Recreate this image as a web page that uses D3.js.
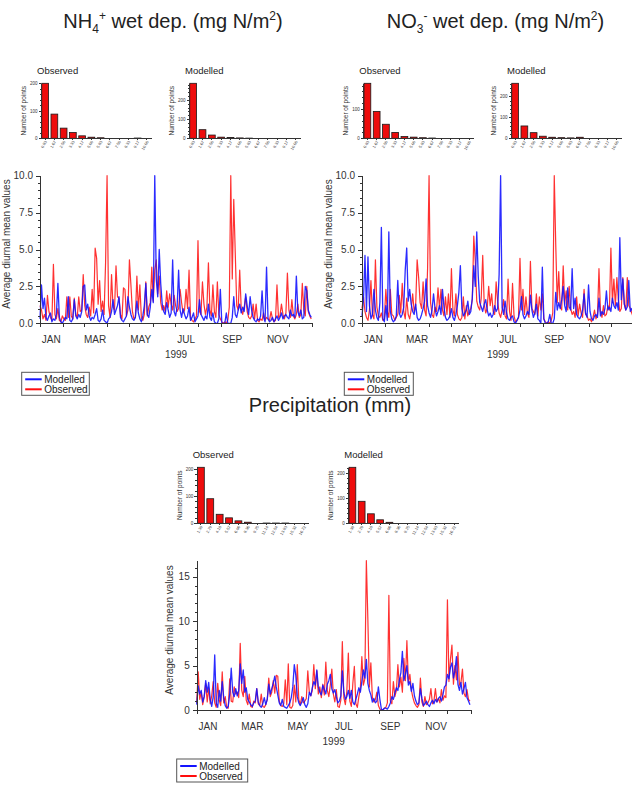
<!DOCTYPE html>
<html>
<head>
<meta charset="utf-8">
<script src="https://cdn.jsdelivr.net/npm/d3@7"></script>
<style>
    body { margin: 0; background: #fff; }
    svg { font-family: "Liberation Sans", Arial, sans-serif; display: block; }
    .axis path, .axis line { stroke: #333; shape-rendering: crispEdges; }
    .axis text { fill: #333; }
</style>
</head>
<body>
<svg id="chart" width="632" height="811"></svg>
<script>
(function () {
    'use strict';

    // one value every 2 days, starting 1 Jan 1999
    var dayStep = 2;
    var monthLabels = ['JAN', 'MAR', 'MAY', 'JUL', 'SEP', 'NOV'];
    var yearLabel = '1999';

    var binsN = ['0.83', '1.67', '2.50', '3.33', '4.17', '5.00', '5.83', '6.67', '7.50', '8.33', '9.17', '10.00'];
    var binsP = ['1.39', '2.79', '4.18', '5.57', '6.96', '8.36', '9.75', '11.14', '12.54', '13.93', '15.32', '16.72'];

    var histObsNH4 = [200, 88, 37, 21, 9, 4, 2, 0, 0, 0, 1, 0];
    var histModNH4 = [287, 45, 17, 6, 4, 2, 1, 0, 0, 0, 0, 0];
    var histObsNO3 = [188, 92, 48, 20, 6, 4, 2, 1, 0, 0, 0, 0];
    var histModNO3 = [263, 59, 27, 10, 5, 3, 2, 5, 0, 0, 0, 0];
    var histObsPrec = [205, 90, 33, 20, 9, 4, 0, 1, 1, 1, 0, 0];
    var histModPrec = [224, 88, 38, 14, 4, 0, 0, 0, 0, 0, 0, 0];

    var obsNH4 = [
        1.2, 0.9, 0.3, 0.6, 0.2, 1.9, 0.8, 0.4, 0.2, 4.0,
        0.6, 0.3, 1.0, 0.2, 0.1, 0.5, 0.3, 0.2, 1.8, 0.4,
        1.8, 0.5, 0.3, 1.7, 0.6, 0.4, 1.8, 0.8, 0.9, 3.3,
        1.2, 0.6, 0.4, 1.1, 0.5, 2.3, 0.7, 5.1, 4.4, 1.3,
        2.9, 0.8, 1.5, 0.6, 4.1, 10.0, 1.2, 0.4, 3.3, 1.1,
        0.9, 3.9, 1.8, 1.7, 0.6, 0.3, 2.4, 2.3, 0.5, 0.9,
        4.3, 2.6, 0.8, 0.3, 0.4, 3.2, 0.9, 2.6, 0.4, 0.2,
        0.6, 2.8, 0.5, 1.1, 1.4, 3.8, 1.5, 3.6, 4.3, 2.0,
        3.2, 1.4, 0.9, 1.2, 0.8, 2.2, 1.1, 2.0, 1.3, 0.9,
        1.9, 1.2, 0.8, 1.0, 2.3, 1.4, 0.7, 0.9, 2.3, 1.0,
        3.6, 0.4, 0.2, 0.1, 0.3, 0.5, 5.6, 0.8, 0.6, 2.8,
        1.3, 0.6, 1.1, 4.1, 0.9, 0.5, 2.6, 0.8, 0.4, 2.8,
        0.6, 0.3, 0.1, 0.0, 0.1, 0.0, 0.2, 1.1, 10.0, 3.0,
        8.4, 4.8, 1.2, 0.9, 3.6, 1.0, 0.6, 1.1, 1.8, 0.8,
        0.4, 0.3, 0.5, 1.3, 0.3, 1.3, 0.2, 0.1, 0.3, 0.2,
        0.7, 0.2, 0.4, 0.3, 0.2, 0.8, 0.3, 0.1, 0.2, 2.6,
        0.4, 0.5, 1.3, 0.6, 0.3, 0.7, 3.4, 0.9, 0.4, 1.6,
        0.5, 0.3, 0.6, 1.3, 0.4, 0.6, 2.7, 0.9, 0.5, 2.5,
        0.8, 0.5, 0.3
    ];

    var modNH4 = [
        0.3, 2.6, 1.0, 1.7, 0.4, 0.2, 0.5, 0.7, 0.1, 0.3,
        0.2, 0.6, 2.7, 0.4, 0.1, 0.0, 0.2, 0.4, 0.3, 1.8,
        0.2, 0.1, 0.3, 1.6, 0.5, 0.3, 0.6, 0.4, 0.8, 2.5,
        2.6, 0.9, 1.3, 0.5, 0.2, 0.4, 0.3, 0.6, 1.0, 0.2,
        0.1, 0.3, 0.9, 0.2, 0.1, 0.0, 0.3, 0.4, 0.8, 1.6,
        0.6, 0.9, 1.2, 1.8, 0.4, 0.2, 0.1, 0.3, 0.5, 1.8,
        1.1, 0.6, 0.3, 0.2, 0.4, 1.5, 0.7, 0.3, 0.1, 0.5,
        1.2, 2.7, 0.6, 0.4, 1.1, 2.3, 1.4, 10.0, 3.0, 1.8,
        5.0, 2.7, 1.3, 0.8, 0.6, 1.4, 0.9, 0.4, 0.7, 4.3,
        0.8, 0.5, 1.1, 3.6, 0.9, 0.4, 1.0, 0.6, 0.3, 0.5,
        1.1, 0.2, 0.4, 0.7, 0.1, 0.3, 0.5, 1.6, 0.6, 0.4,
        0.2, 0.5, 0.3, 1.3, 0.4, 0.2, 0.7, 0.1, 0.0, 0.0,
        0.3, 2.3, 0.0, 0.0, 0.0, 0.7, 0.0, 0.0, 0.0, 0.4,
        1.8, 0.6, 0.4, 0.9, 1.3, 0.7, 1.1, 0.8, 2.0, 1.2,
        0.6, 1.8, 0.9, 0.4, 0.2, 0.1, 0.3, 0.2, 0.5, 2.2,
        0.4, 0.1, 3.8, 0.3, 0.1, 0.2, 0.4, 0.1, 0.3, 0.5,
        0.2, 0.4, 0.7, 0.3, 0.5, 0.6, 0.4, 0.3, 0.9, 0.5,
        0.6, 0.4, 3.2, 0.8, 0.5, 0.9, 0.3, 0.4, 2.5, 2.2,
        0.9, 0.6, 0.4
    ];

    var obsNO3 = [
        1.0, 1.8, 0.8, 0.4, 0.2, 0.9, 2.9, 0.6, 0.3, 4.3,
        1.1, 0.5, 0.4, 0.7, 0.2, 0.3, 2.3, 0.8, 0.4, 2.3,
        0.6, 0.5, 0.2, 0.4, 0.6, 1.9, 0.7, 2.7, 0.8, 0.3,
        1.7, 0.6, 0.3, 0.9, 2.0, 0.8, 1.2, 4.3, 3.1, 1.4,
        1.0, 2.8, 0.9, 0.5, 3.7, 10.0, 1.4, 0.6, 0.4, 1.1,
        0.8, 2.4, 1.0, 2.3, 0.9, 0.5, 1.8, 0.6, 2.0, 0.4,
        3.7, 0.9, 0.5, 2.0, 0.6, 0.3, 0.2, 0.4, 1.8, 0.3,
        1.2, 0.5, 0.8, 1.0, 1.6, 5.9, 4.2, 1.5, 1.1, 0.9,
        1.7, 4.6, 1.3, 0.7, 1.0, 2.5, 1.2, 2.0, 0.8, 0.6,
        2.8, 1.5, 0.7, 0.4, 0.9, 1.6, 0.5, 0.3, 3.0, 0.8,
        0.2, 2.7, 0.5, 0.1, 0.2, 0.4, 4.4, 0.9, 2.3, 0.6,
        1.8, 0.7, 0.4, 4.2, 1.0, 0.8, 0.6, 2.0, 0.5, 1.8,
        0.9, 2.0, 0.3, 0.1, 0.0, 0.1, 0.0, 0.2, 0.7, 10.0,
        5.3, 1.4, 3.5, 1.1, 0.9, 3.9, 1.3, 2.2, 0.9, 2.5,
        1.0, 0.6, 0.8, 0.4, 1.8, 0.5, 1.3, 0.7, 0.4, 2.3,
        0.6, 0.5, 0.2, 0.3, 0.1, 0.4, 0.9, 0.3, 0.6, 3.7,
        0.8, 0.4, 1.2, 0.5, 0.6, 1.2, 0.9, 5.1, 1.4, 3.0,
        1.2, 3.1, 1.6, 0.8, 1.0, 3.1, 1.3, 0.9, 3.1, 1.2,
        1.0, 0.7, 0.4
    ];

    var modNO3 = [
        0.5, 1.6, 4.6, 0.8, 4.5, 1.2, 0.3, 0.6, 2.3, 0.9,
        0.4, 0.2, 1.4, 6.5, 0.3, 0.1, 1.2, 0.2, 6.2, 0.8,
        0.3, 0.1, 0.2, 0.5, 2.9, 0.7, 0.4, 0.6, 1.1, 3.6,
        5.1, 1.5, 2.3, 1.3, 0.8, 0.6, 1.3, 0.4, 0.2, 0.3,
        0.6, 1.0, 1.5, 3.0, 1.2, 0.7, 0.4, 0.9, 2.0, 1.0,
        0.5, 0.8, 1.2, 0.6, 2.3, 1.1, 0.4, 0.2, 0.3, 0.5,
        1.0, 0.4, 0.2, 0.6, 1.2, 2.1, 3.9, 1.0, 0.5, 0.7,
        0.9, 1.5, 0.6, 0.8, 1.7, 3.9, 2.5, 6.2, 3.2, 1.4,
        1.1, 0.8, 1.3, 1.6, 0.9, 0.5, 0.7, 0.4, 0.6, 1.2,
        0.8, 1.0, 3.3, 10.0, 1.1, 0.6, 1.5, 0.7, 0.3, 0.2,
        0.4, 0.5, 0.1, 0.0, 0.2, 0.4, 0.9, 1.8, 0.6, 0.3,
        0.5, 0.8, 0.6, 1.9, 0.9, 0.4, 0.7, 1.3, 0.3, 0.2,
        0.0, 3.8, 0.3, 0.0, 0.0, 0.1, 0.6, 0.0, 0.0, 0.3,
        2.1, 0.9, 1.4, 1.0, 1.6, 2.5, 1.2, 0.8, 2.4, 1.1,
        0.9, 3.7, 1.0, 1.7, 0.6, 0.4, 0.3, 0.5, 0.9, 2.0,
        0.7, 0.4, 2.6, 0.8, 0.3, 0.2, 0.5, 0.6, 0.4, 1.7,
        0.5, 0.8, 0.6, 1.0, 2.2, 0.9, 1.1, 0.8, 1.7, 1.2,
        1.0, 1.4, 0.9, 5.8, 1.6, 3.0, 1.3, 0.9, 1.1, 2.9,
        0.8, 1.0, 0.7
    ];

    var obsPrec = [
        0.8, 4.3, 1.2, 2.0, 0.6, 1.5, 3.0, 0.9, 2.5, 0.7,
        1.6, 3.2, 0.8, 0.3, 3.0, 1.1, 0.5, 4.3, 0.8, 1.5,
        0.3, 0.2, 3.5, 1.0, 0.9, 2.6, 1.8, 2.0, 1.4, 7.5,
        2.2, 1.5, 3.8, 1.1, 0.6, 1.8, 0.4, 0.3, 1.0, 0.8,
        2.4, 0.7, 0.5, 1.8, 0.4, 0.3, 0.6, 1.2, 3.6, 1.5,
        2.0, 3.3, 1.9, 3.9, 3.8, 1.0, 0.5, 0.4, 0.7, 3.4,
        0.6, 5.2, 0.3, 0.2, 0.5, 2.8, 0.9, 5.1, 1.2, 0.6,
        1.5, 0.8, 1.0, 1.3, 4.4, 2.0, 1.6, 2.2, 5.1, 2.4,
        4.4, 1.8, 2.6, 1.4, 2.9, 1.7, 5.4, 2.2, 1.5, 2.8,
        4.6, 1.8, 0.9, 2.3, 0.4, 0.3, 1.1, 7.7, 1.4, 0.6,
        2.1, 6.4, 1.0, 0.4, 3.0, 4.9, 0.7, 0.3, 1.5, 2.4,
        6.0, 2.8, 3.5, 16.8, 10.2, 2.6, 5.3, 1.4, 0.9, 1.2,
        2.0, 0.5, 0.1, 0.0, 0.0, 0.2, 0.3, 0.8, 12.9, 1.0,
        0.7, 3.2, 1.5, 2.2, 5.1, 2.6, 3.7, 2.0, 5.8, 3.3,
        7.8, 3.1, 4.0, 2.2, 1.4, 0.8, 0.5, 0.3, 0.6, 3.6,
        0.9, 0.4, 1.5, 0.6, 0.8, 1.2, 2.4, 0.7, 1.0, 2.4,
        0.9, 1.3, 0.8, 2.3, 1.1, 1.6, 1.4, 12.4, 3.2, 5.7,
        7.3, 2.9, 5.0, 3.4, 6.5, 2.8, 3.1, 4.6, 1.9, 1.5,
        2.3, 1.2, 1.0
    ];

    var modPrec = [
        0.6, 2.7, 1.8, 2.2, 0.9, 1.5, 3.3, 2.0, 3.1, 1.2,
        0.4, 1.5, 6.2, 0.8, 0.3, 2.2, 1.0, 3.2, 1.4, 0.5,
        0.2, 0.4, 1.8, 4.7, 2.0, 1.5, 2.4, 1.6, 2.2, 5.2,
        3.0, 4.5, 2.0, 2.5, 1.2, 0.9, 0.6, 0.4, 0.8, 1.0,
        2.4, 0.9, 0.5, 0.3, 0.7, 1.4, 0.6, 1.2, 2.9, 1.8,
        2.4, 3.0, 3.8, 2.6, 1.7, 0.8, 0.5, 1.2, 0.4, 0.3,
        0.2, 0.5, 0.8, 1.4, 2.6, 5.1, 3.9, 1.5, 0.8, 0.5,
        0.9, 1.4, 0.6, 0.3, 0.7, 2.0, 1.6, 2.5, 3.2, 2.8,
        4.5, 2.6, 2.0, 1.7, 2.8, 2.3, 1.8, 2.9, 3.3, 4.0,
        2.4, 1.9, 2.3, 1.5, 0.8, 1.0, 1.6, 4.4, 2.0, 1.2,
        1.5, 2.2, 1.3, 2.2, 0.9, 0.6, 1.2, 1.8, 2.5, 2.0,
        3.2, 4.5, 3.6, 5.7, 3.0, 2.2, 1.7, 0.9, 1.3, 0.8,
        1.0, 2.6, 1.2, 0.1, 0.0, 0.2, 0.2, 0.1, 0.4, 0.8,
        1.5, 1.2, 1.9, 2.5, 2.2, 3.4, 4.2, 6.6, 3.3, 4.0,
        5.0, 2.8, 3.2, 2.1, 3.0, 1.6, 1.0, 0.6, 0.8, 2.4,
        1.3, 0.5, 0.7, 1.0, 0.6, 0.4, 0.8, 1.1, 0.7, 1.2,
        0.9, 1.3, 1.5, 1.0, 1.7, 2.6, 2.8, 4.0, 3.5, 4.8,
        5.3, 3.6, 4.4, 6.0, 2.9, 2.2, 3.1, 1.8, 2.4, 3.1,
        1.4, 1.0, 0.6
    ];

    var colors = {
        observed: '#ff0d0d',
        modelled: '#1414ff',
        bar: '#ee0c0c',
        text: '#222'
    };

    var svg = d3.select('#chart');
    var startDay = new Date(1999, 0, 1);
    var endDay = new Date(2000, 0, 1);

    function dayOf(i) {
        return d3.timeDay.offset(startDay, i * dayStep);
    }

    function title(cx, cy, parts) {
        var t = svg.append('text')
            .attr('x', cx).attr('y', cy)
            .attr('text-anchor', 'middle')
            .attr('font-size', 20)
            .attr('fill', colors.text);
        parts.forEach(function (p) {
            var s = t.append('tspan').text(p.text);
            if (p.dy) { s.attr('dy', p.dy); }
            if (p.size) { s.attr('font-size', p.size); }
        });
    }

    function drawHist(o) {
        var g = svg.append('g');
        var x = d3.scaleBand().domain(o.bins)
            .range([o.left, o.left + o.width])
            .paddingInner(0.27).paddingOuter(0.08);
        var y = d3.scaleLinear().domain([0, d3.max(o.values)])
            .range([o.top + o.height, o.top]);

        g.append('text')
            .attr('x', o.left - 4).attr('y', o.top - 9.5)
            .attr('font-size', 9.5).attr('fill', colors.text)
            .text(o.title);

        g.selectAll('rect').data(o.values).enter().append('rect')
            .attr('x', function (d, i) { return x(o.bins[i]); })
            .attr('y', function (d) { return y(d); })
            .attr('width', x.bandwidth())
            .attr('height', function (d) { return y(0) - y(d); })
            .attr('fill', colors.bar)
            .attr('stroke', '#1a1a1a')
            .attr('stroke-width', 0.8);

        var minor = d3.range(0, y.domain()[1] + 0.1, 20);
        g.append('g').attr('class', 'axis')
            .attr('transform', 'translate(' + o.left + ',0)')
            .call(d3.axisLeft(y).tickValues(minor).tickSize(1.5).tickSizeOuter(0).tickFormat(''));
        g.append('g').attr('class', 'axis')
            .attr('transform', 'translate(' + o.left + ',0)')
            .call(d3.axisLeft(y).tickValues([0, 100, 200].filter(function (v) { return v <= y.domain()[1]; }))
                .tickSize(2.5).tickSizeOuter(0).tickPadding(1).tickFormat(d3.format('d')))
            .selectAll('text').attr('font-size', 4.5);

        var xa = g.append('g').attr('class', 'axis')
            .attr('transform', 'translate(0,' + (o.top + o.height) + ')')
            .call(d3.axisBottom(x).tickSize(1.5).tickSizeOuter(0));
        xa.selectAll('text')
            .attr('font-size', 4)
            .attr('fill', '#555')
            .attr('x', -2).attr('y', 2).attr('dy', '0.35em')
            .attr('transform', 'rotate(-60)')
            .style('text-anchor', 'end');

        g.append('text')
            .attr('transform', 'translate(' + (o.left - 15) + ',' + (o.top + o.height / 2) + ') rotate(-90)')
            .attr('text-anchor', 'middle')
            .attr('font-size', 6.5).attr('fill', '#333')
            .text('Number of points');
    }

    function drawSeries(o) {
        var g = svg.append('g');
        var x = d3.scaleTime().domain([startDay, endDay]).range([o.left, o.left + o.width]);
        var maxV = d3.max(o.observed.concat(o.modelled));
        var y = d3.scaleLinear().domain([0, maxV]).range([o.top + o.height, o.top]);
        var base = o.top + o.height;

        var line = d3.line()
            .x(function (d, i) { return x(dayOf(i)); })
            .y(function (d) { return y(d); });

        g.append('path').datum(o.observed)
            .attr('d', line).attr('fill', 'none')
            .attr('stroke', colors.observed).attr('stroke-width', 1.2)
            .attr('stroke-opacity', 0.85).attr('stroke-linejoin', 'round');
        g.append('path').datum(o.modelled)
            .attr('d', line).attr('fill', 'none')
            .attr('stroke', colors.modelled).attr('stroke-width', 1.3)
            .attr('stroke-opacity', 0.9).attr('stroke-linejoin', 'round');

        // y axis: minor then major ticks
        g.append('g').attr('class', 'axis')
            .attr('transform', 'translate(' + o.left + ',0)')
            .call(d3.axisLeft(y).tickValues(d3.range(0, maxV + 0.01, o.minor)).tickSize(2).tickSizeOuter(0).tickFormat(''));
        g.append('g').attr('class', 'axis')
            .attr('transform', 'translate(' + o.left + ',0)')
            .call(d3.axisLeft(y).tickValues(o.yTicks).tickSize(4).tickSizeOuter(0).tickPadding(3).tickFormat(o.fmt))
            .selectAll('text').attr('font-size', 10);

        // x axis, one tick per month
        g.append('g').attr('class', 'axis')
            .attr('transform', 'translate(0,' + base + ')')
            .call(d3.axisBottom(x).ticks(d3.timeMonth.every(1)).tickSize(4).tickSizeOuter(0).tickFormat(''));

        g.selectAll('text.month').data(monthLabels).enter().append('text')
            .attr('class', 'month')
            .attr('x', function (d, i) { return x(new Date(1999, i * 2, 16)); })
            .attr('y', base + 19.5)
            .attr('text-anchor', 'middle')
            .attr('font-size', 10).attr('fill', '#333')
            .text(function (d) { return d; });

        g.append('text')
            .attr('x', o.left + o.width / 2).attr('y', base + 34.5)
            .attr('text-anchor', 'middle')
            .attr('font-size', 10).attr('fill', '#333')
            .text(yearLabel);

        g.append('text')
            .attr('transform', 'translate(' + o.labelX + ',' + o.labelY + ') rotate(-90)')
            .attr('text-anchor', 'middle')
            .attr('font-size', 10).attr('fill', '#333')
            .text('Average diurnal mean values');

        // legend
        var lg = g.append('g').attr('transform', 'translate(' + o.legendX + ',' + (base + 49) + ')');
        lg.append('rect')
            .attr('width', o.legendW).attr('height', 23)
            .attr('fill', '#fff').attr('stroke', '#555').attr('stroke-width', 1);
        [['Modelled', colors.modelled], ['Observed', colors.observed]].forEach(function (it, i) {
            var ly = 7 + i * 10;
            lg.append('line')
                .attr('x1', 3.5).attr('x2', 20).attr('y1', ly).attr('y2', ly)
                .attr('stroke', it[1]).attr('stroke-width', 2);
            lg.append('text')
                .attr('x', 22.5).attr('y', ly + 3.6)
                .attr('font-size', 10).attr('fill', colors.text)
                .text(it[0]);
        });
    }

    // titles
    title(173, 28, [
        { text: 'NH' },
        { text: '4', size: 12, dy: 5 },
        { text: '+', size: 12, dy: -13 },
        { text: ' wet dep. (mg N/m', dy: 8 },
        { text: '2', size: 12, dy: -8 },
        { text: ')', dy: 8 }
    ]);
    title(495.5, 28, [
        { text: 'NO' },
        { text: '3', size: 12, dy: 5 },
        { text: '-', size: 12, dy: -13 },
        { text: ' wet dep. (mg N/m', dy: 8 },
        { text: '2', size: 12, dy: -8 },
        { text: ')', dy: 8 }
    ]);
    title(330, 411.7, [{ text: 'Precipitation (mm)' }]);

    // histograms
    drawHist({ title: 'Observed', bins: binsN, values: histObsNH4, left: 41, top: 83.3, width: 110, height: 55 });
    drawHist({ title: 'Modelled', bins: binsN, values: histModNH4, left: 189, top: 83.3, width: 111, height: 55 });
    drawHist({ title: 'Observed', bins: binsN, values: histObsNO3, left: 363.3, top: 83.3, width: 110, height: 55 });
    drawHist({ title: 'Modelled', bins: binsN, values: histModNO3, left: 511, top: 83.3, width: 110, height: 55 });
    drawHist({ title: 'Observed', bins: binsP, values: histObsPrec, left: 196.7, top: 467.3, width: 111.6, height: 56 });
    drawHist({ title: 'Modelled', bins: binsP, values: histModPrec, left: 348.3, top: 467.3, width: 110, height: 56 });

    // time series
    drawSeries({
        observed: obsNH4, modelled: modNH4,
        left: 40, top: 175.7, width: 272, height: 147.6,
        yTicks: [0, 2.5, 5, 7.5, 10], minor: 0.5, fmt: d3.format('.1f'),
        labelX: 9.5, labelY: 244, legendX: 21.7, legendW: 67.6
    });
    drawSeries({
        observed: obsNO3, modelled: modNO3,
        left: 362, top: 175.7, width: 272, height: 147.6,
        yTicks: [0, 2.5, 5, 7.5, 10], minor: 0.5, fmt: d3.format('.1f'),
        labelX: 331.5, labelY: 244, legendX: 344.3, legendW: 69
    });
    drawSeries({
        observed: obsPrec, modelled: modPrec,
        left: 196.7, top: 560.7, width: 274, height: 149.3,
        yTicks: [0, 5, 10, 15], minor: 1, fmt: d3.format('d'),
        labelX: 172.5, labelY: 630, legendX: 176.7, legendW: 71
    });
}());
</script>
</body>
</html>
